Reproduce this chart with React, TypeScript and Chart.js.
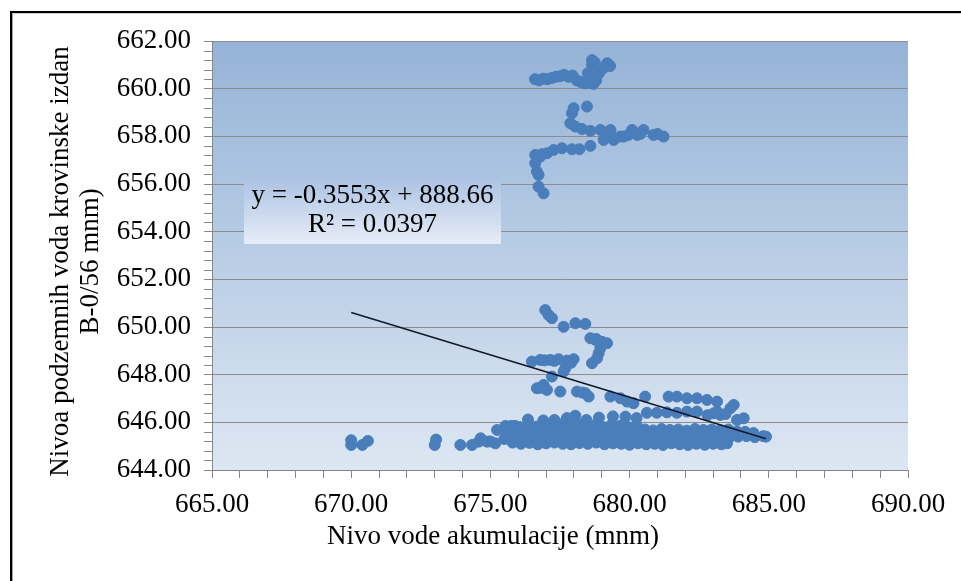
import React, { useEffect, useRef } from 'react';
import { Chart, registerables } from 'chart.js';

Chart.register(...registerables);

// ---- axes / text ----
const X_MIN = 665;
const X_MAX = 690;
const X_LABEL_STEP = 5;
const Y_MIN = 644;
const Y_MAX = 662;
const Y_STEP = 2;
const Y_MINOR_PER_MAJOR = 5;
const xTitle = 'Nivo vode akumulacije (mnm)';
const yTitle = ['Nivoa podzemnih voda krovinske izdan', 'B-0/56 mnm)'];
const trendSlope = -0.3553;
const trendIntercept = 888.66;
const equationText = 'y = -0.3553x + 888.66';
const r2Text = 'R² = 0.0397';

// ---- data (x: reservoir level, y: groundwater level) ----
const leftPoints: [number, number][] = [
  [670.0, 645.25], [670.0, 645.05], [670.4, 645.05], [670.6, 645.22],
  [673.05, 645.28], [673.0, 645.05],
  [673.92, 645.05], [674.34, 645.05], [674.58, 645.19], [674.88, 645.19], [675.18, 645.12],
  [674.65, 645.33], [675.0, 645.2],
  [675.24, 645.68], [675.54, 645.85], [675.89, 645.85],
];

const topCluster: [number, number][] = [
  [676.6, 660.4], [676.75, 660.35], [676.9, 660.42], [677.05, 660.4], [677.2, 660.45],
  [677.35, 660.5], [677.5, 660.52], [677.65, 660.58], [677.8, 660.5], [677.95, 660.55],
  [678.1, 660.35], [678.25, 660.28], [678.4, 660.22], [678.55, 660.25], [678.7, 660.2],
  [678.8, 660.35],
  [678.65, 661.2], [678.65, 661.0], [678.5, 660.65], [679.2, 661.07], [679.06, 660.87],
  [678.9, 660.65], [678.75, 661.1], [679.3, 660.95],
];

const upperMiddle: [number, number][] = [
  [678.47, 659.25], [677.99, 659.18], [677.93, 658.97], [677.87, 658.55], [678.05, 658.41],
  [678.29, 658.31], [678.59, 658.23], [678.95, 658.27], [679.31, 658.27], [679.07, 657.85],
  [679.37, 657.92], [679.67, 657.99], [679.95, 658.06], [680.09, 658.27], [680.5, 658.27],
  [681.22, 657.99], [680.86, 658.06], [680.27, 658.06], [679.79, 657.99], [679.43, 657.85],
  [679.31, 658.2], [680.39, 658.1], [681.0, 658.1],
  [676.61, 657.22], [676.79, 657.15], [677.03, 657.29], [677.27, 657.43], [677.57, 657.5],
  [677.93, 657.46], [678.2, 657.46], [678.59, 657.6], [676.61, 656.87], [676.67, 656.52],
  [676.73, 656.38], [676.73, 655.89], [676.91, 655.61], [676.7, 657.1], [676.85, 657.25],
];

const lowerMiddle: [number, number][] = [
  [676.97, 650.71], [677.09, 650.5], [677.21, 650.37], [677.63, 650.01], [678.05, 650.16],
  [678.41, 650.13],
  [678.59, 649.53], [678.77, 649.46], [679.01, 649.38], [679.19, 649.32], [678.95, 649.11],
  [678.89, 648.9], [678.83, 648.69], [678.65, 648.48], [678.8, 649.5],
  [676.49, 648.55], [676.79, 648.62], [677.15, 648.62], [677.45, 648.65], [677.75, 648.59],
  [677.99, 648.65], [677.69, 648.27], [677.63, 648.13], [677.21, 647.92], [676.95, 648.6],
  [677.3, 648.58], [677.9, 648.5],
  [676.67, 647.43], [676.91, 647.57], [677.03, 647.36], [677.51, 647.29], [678.11, 647.29],
  [678.41, 647.22], [678.53, 647.08], [679.31, 647.08], [679.67, 647.01], [679.91, 646.87],
  [680.14, 646.8], [680.56, 647.08], [676.8, 647.45], [678.3, 647.25],
  [681.4, 647.08], [681.7, 647.08], [682.06, 647.01], [682.42, 647.01], [682.78, 646.94],
  [683.14, 646.87], [683.74, 646.73], [683.62, 646.59], [683.02, 646.38], [683.26, 646.31],
  [684.1, 646.17], [683.86, 646.1],
];

const bandUpper: [number, number][] = [
  [676.35, 646.12], [676.9, 646.08], [677.3, 646.1], [677.75, 646.18], [678.05, 646.28],
  [678.45, 646.1], [678.9, 646.2], [679.4, 646.25], [679.85, 646.24], [680.25, 646.18],
  [680.62, 646.4], [680.98, 646.4], [681.34, 646.42], [681.7, 646.4], [682.06, 646.45],
  [682.42, 646.45], [682.8, 646.3], [683.15, 646.45], [683.45, 646.35],
];

const bandRow1: [number, number][] = [
  [675.75, 645.85], [676.05, 645.8], [676.35, 645.9], [676.65, 645.82], [676.95, 645.88],
  [677.25, 645.8], [677.55, 645.92], [677.85, 645.84], [678.15, 645.9], [678.45, 645.82],
  [678.75, 645.88], [679.05, 645.8], [679.35, 645.9], [679.65, 645.85], [679.95, 645.8],
  [680.25, 645.88], [680.55, 645.7], [680.85, 645.66], [681.15, 645.72], [681.45, 645.68],
  [681.75, 645.7], [682.05, 645.65], [682.35, 645.72], [682.65, 645.68], [682.95, 645.7],
  [683.25, 645.66], [683.55, 645.7], [683.85, 645.62], [684.15, 645.6], [684.45, 645.55],
];

const bandRow2: [number, number][] = [
  [675.6, 645.5], [675.9, 645.58], [676.2, 645.52], [676.5, 645.6], [676.8, 645.55],
  [677.1, 645.5], [677.4, 645.58], [677.7, 645.52], [678.0, 645.6], [678.3, 645.55],
  [678.6, 645.5], [678.9, 645.58], [679.2, 645.52], [679.5, 645.6], [679.8, 645.55],
  [680.1, 645.5], [680.4, 645.58], [680.7, 645.52], [681.0, 645.55], [681.3, 645.5],
  [681.6, 645.56], [681.9, 645.5], [682.2, 645.55], [682.5, 645.5], [682.8, 645.56],
  [683.1, 645.5], [683.4, 645.55],
];

const bandRow3: [number, number][] = [
  [675.5, 645.3], [675.8, 645.35], [676.1, 645.28], [676.4, 645.36], [676.7, 645.3],
  [677.0, 645.34], [677.3, 645.28], [677.6, 645.35], [677.9, 645.3], [678.2, 645.36],
  [678.5, 645.28], [678.8, 645.33], [679.1, 645.3], [679.4, 645.36], [679.7, 645.28],
  [680.0, 645.34], [680.3, 645.3], [680.6, 645.35], [680.9, 645.28], [681.2, 645.33],
  [681.5, 645.3], [681.8, 645.36], [682.1, 645.3], [682.4, 645.34], [682.7, 645.28],
  [683.0, 645.33], [683.3, 645.3], [683.6, 645.38], [683.9, 645.4], [684.2, 645.42],
  [684.5, 645.38], [684.8, 645.42], [684.9, 645.4],
];

const bandRow4: [number, number][] = [
  [675.8, 645.15], [676.1, 645.1], [676.4, 645.14], [676.7, 645.08], [677.0, 645.12],
  [677.3, 645.15], [677.6, 645.1], [677.9, 645.08], [678.2, 645.13], [678.5, 645.1],
  [678.8, 645.15], [679.1, 645.08], [679.4, 645.12], [679.7, 645.1], [680.0, 645.06],
  [680.3, 645.12], [680.6, 645.08], [680.9, 645.1], [681.2, 645.05], [681.5, 645.12],
  [681.8, 645.08], [682.1, 645.05], [682.4, 645.1], [682.7, 645.06], [683.0, 645.1],
  [683.3, 645.08], [683.5, 645.12],
];

const POINT_COLOR = '#4a7ebb';
const FONT_FAMILY = '"Liberation Serif", "Times New Roman", serif';
const FONT_SIZE = 27;

const decorPlugin = {
  id: 'decor',
  beforeDraw(chart: any) {
    const { ctx, chartArea, width, height } = chart;
    ctx.save();
    ctx.fillStyle = '#ffffff';
    ctx.fillRect(0, 0, width, height);
    // outer frame
    ctx.fillStyle = '#000000';
    ctx.fillRect(10, 11, width - 10, 2);
    ctx.fillRect(10, 11, 2, height - 11);
    ctx.fillStyle = '#a0a0a0';
    ctx.fillRect(12, 13, 1, height - 13);
    ctx.fillStyle = '#d0d0d0';
    ctx.fillRect(12, 13, width - 12, 1);
    // plot area gradient
    const g = ctx.createLinearGradient(0, chartArea.top, 0, chartArea.bottom);
    g.addColorStop(0, '#95b3d7');
    g.addColorStop(1, '#dde7f3');
    ctx.fillStyle = g;
    ctx.fillRect(chartArea.left, chartArea.top, chartArea.right - chartArea.left, chartArea.bottom - chartArea.top);
    ctx.restore();
  },
  beforeDatasetsDraw(chart: any) {
    const { ctx, chartArea, scales } = chart;
    const y = scales.y;
    ctx.save();
    // minor ticks on y axis
    ctx.strokeStyle = '#868686';
    ctx.lineWidth = 1;
    const minorStep = Y_STEP / Y_MINOR_PER_MAJOR;
    const n = Math.round((Y_MAX - Y_MIN) / minorStep);
    for (let i = 0; i <= n; i++) {
      if (i % Y_MINOR_PER_MAJOR === 0) continue;
      const py = Math.round(y.getPixelForValue(Y_MIN + i * minorStep)) + 0.5;
      ctx.beginPath();
      ctx.moveTo(chartArea.left - 8, py);
      ctx.lineTo(chartArea.left, py);
      ctx.stroke();
    }
    // equation box
    const bx = chartArea.left + 32;
    const by = chartArea.top + 134;
    const bw = 257;
    const bh = 69;
    const g = ctx.createLinearGradient(0, by, 0, by + bh);
    g.addColorStop(0, '#a9c0e1');
    g.addColorStop(1, '#e6edf7');
    ctx.fillStyle = g;
    ctx.fillRect(bx, by, bw, bh);
    ctx.fillStyle = '#000';
    ctx.font = `${FONT_SIZE}px ${FONT_FAMILY}`;
    ctx.textAlign = 'center';
    ctx.textBaseline = 'middle';
    ctx.fillText(equationText, bx + bw / 2, by + 21);
    ctx.fillText(r2Text, bx + bw / 2, by + 50);
    ctx.restore();
  },
  afterDraw(chart: any) {
    const { ctx, chartArea } = chart;
    ctx.save();
    ctx.fillStyle = '#000';
    ctx.font = `${FONT_SIZE}px ${FONT_FAMILY}`;
    ctx.textAlign = 'center';
    ctx.textBaseline = 'middle';
    ctx.fillText(xTitle, chartArea.left + 281, chartArea.bottom + 67);
    const cy = (chartArea.top + chartArea.bottom) / 2 + 6;
    yTitle.forEach((line, i) => {
      ctx.save();
      ctx.translate(61 + i * 30, cy);
      ctx.rotate(-Math.PI / 2);
      ctx.fillText(line, 0, 0);
      ctx.restore();
    });
    ctx.restore();
  },
};

export default function App() {
  const ref = useRef<HTMLCanvasElement | null>(null);
  useEffect(() => {
    if (!ref.current) return;
    const points = [
      ...leftPoints, ...topCluster, ...upperMiddle, ...lowerMiddle,
      ...bandUpper, ...bandRow1, ...bandRow2, ...bandRow3, ...bandRow4,
    ].map(([x, y]) => ({ x, y }));
    const xs = points.map((p) => p.x);
    const x0 = Math.min(...xs);
    const x1 = Math.max(...xs);
    const trend = [
      { x: x0, y: trendSlope * x0 + trendIntercept },
      { x: x1, y: trendSlope * x1 + trendIntercept },
    ];
    const font = { family: FONT_FAMILY, size: FONT_SIZE };
    const chart = new Chart(ref.current, {
      type: 'scatter',
      data: {
        datasets: [
          {
            label: 'Linear trend',
            data: trend,
            showLine: true,
            borderColor: '#111827',
            borderWidth: 1.5,
            pointRadius: 0,
            order: 0,
          } as any,
          {
            label: 'Nivo',
            data: points,
            backgroundColor: POINT_COLOR,
            borderColor: POINT_COLOR,
            borderWidth: 1,
            pointRadius: 5.5,
            order: 1,
          },
        ],
      },
      options: {
        animation: false,
        responsive: false,
        maintainAspectRatio: false,
        layout: { padding: { left: 0, top: 41, right: 53, bottom: 0 } },
        plugins: { legend: { display: false }, tooltip: { enabled: false } },
        scales: {
          x: {
            type: 'linear',
            min: X_MIN,
            max: X_MAX,
            ticks: {
              stepSize: 1,
              autoSkip: false,
              maxRotation: 0,
              padding: 11,
              color: '#000',
              font,
              callback: (v: any) => (Math.abs(v % X_LABEL_STEP) < 1e-9 ? Number(v).toFixed(2) : ''),
            },
            grid: { drawOnChartArea: false, drawTicks: true, tickLength: 8, tickColor: '#868686' },
            border: { color: '#868686' },
            afterFit: (s: any) => { s.height = 111; },
          },
          y: {
            type: 'linear',
            min: Y_MIN,
            max: Y_MAX,
            ticks: {
              stepSize: Y_STEP,
              autoSkip: false,
              padding: 13,
              color: '#000',
              font,
              callback: (v: any) => Number(v).toFixed(2),
            },
            grid: { color: '#8c8c8c', tickLength: 8, tickColor: '#868686' },
            border: { color: '#868686' },
            afterFit: (s: any) => { s.width = 212; },
          },
        },
      },
      plugins: [decorPlugin],
    });
    return () => chart.destroy();
  }, []);
  return (
    <div style={{ position: 'absolute', left: 0, top: 0, width: 961, height: 581 }}>
      <canvas ref={ref} width={961} height={581} style={{ width: 961, height: 581, display: 'block' }} />
    </div>
  );
}
